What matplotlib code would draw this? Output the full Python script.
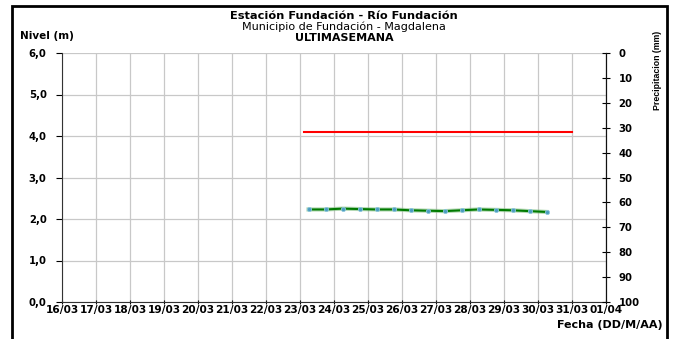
import numpy as np
import matplotlib.pyplot as plt
import matplotlib.patches as patches

plt.rcParams['font.family'] = ['DejaVu Sans']

# days counted from 16/03
dias = ['16/03', '17/03', '18/03', '19/03', '20/03', '21/03', '22/03', '23/03', '24/03',
        '25/03', '26/03', '27/03', '28/03', '29/03', '30/03', '31/03', '01/04']
nivel_t = [7.25, 7.75, 8.25, 8.75, 9.25, 9.75, 10.25, 10.75, 11.25, 11.75,
           12.25, 12.75, 13.25, 13.75, 14.25]
nivel = [2.23, 2.23, 2.25, 2.24, 2.23, 2.23, 2.21, 2.20, 2.19, 2.21,
         2.23, 2.22, 2.21, 2.19, 2.17]
alerta_t = [7.13, 15.0]
alerta = [4.1, 4.1]

fig = plt.figure(figsize=(6.74, 3.39), dpi=100)
ax = fig.add_axes([62/674, 1 - 302/339, 544/674, 249/339])

ax.plot(alerta_t, alerta, color='red', lw=1.5)
ax.plot(nivel_t, nivel, color='#7fbf7f', lw=3, alpha=0.6, zorder=3)
ax.plot(nivel_t, nivel, color='#007a00', lw=1.5, marker='o', ms=3,
        mfc='#4b9cc0', mec='#8fc7dc', mew=0.6, zorder=4)

ax.set_xlim(0, 16)
ax.set_ylim(0, 6)
ax.set_xticks(range(17))
ax.set_xticklabels(dias, fontsize=7.6, fontweight='bold')
ax.set_yticks(range(7))
ax.set_yticklabels([f'{v},0' for v in range(7)], fontsize=7.3, fontweight='bold')
ax.grid(True, color='#c8c8c8', lw=0.9)
ax.set_axisbelow(True)
ax.spines['top'].set_visible(False)
ax.spines['left'].set_color('#333333')
ax.spines['bottom'].set_color('#333333')
ax.tick_params(axis='x', length=3, direction='inout', pad=1)
ax.tick_params(axis='y', length=4, direction='out', pad=7)

ax2 = ax.twinx()
ax2.set_ylim(100, 0)
ax2.set_yticks(range(0, 101, 10))
ax2.set_yticklabels([str(v) for v in range(0, 101, 10)], fontsize=7.3, fontweight='bold')
ax2.tick_params(axis='y', length=6, direction='inout', pad=6)
ax2.spines['top'].set_visible(False)
ax2.spines['right'].set_color('#111111')
ax2.spines['left'].set_visible(False)
ax2.spines['bottom'].set_visible(False)

fig.text(344/674, 1 - 16/339, 'Estación Fundación - Río Fundación', ha='center', va='center',
         fontsize=8.2, fontweight='bold')
fig.text(344/674, 1 - 27/339, 'Municipio de Fundación - Magdalena', ha='center', va='center',
         fontsize=8)
fig.text(344/674, 1 - 38/339, 'ULTIMASEMANA', ha='center', va='center',
         fontsize=8, fontweight='bold')
fig.text(20/674, 1 - 36/339, 'Nivel (m)', ha='left', va='center', fontsize=7.5, fontweight='bold')
fig.text(657/674, 1 - 70/339, 'Precipitacion (mm)', ha='center', va='center', rotation=90,
         fontsize=6.3, fontweight='bold', family='Liberation Sans')
fig.text(663/674, 1 - 325/339, 'Fecha (DD/M/AA)', ha='right', va='center', fontsize=8,
         fontweight='bold')

fig.patches.append(patches.Rectangle((12/674, -0.1), 655/674, 1.1 - 6/339, transform=fig.transFigure,
                                     fill=False, ec='black', lw=2))

fig.savefig('out.png', dpi=100)
